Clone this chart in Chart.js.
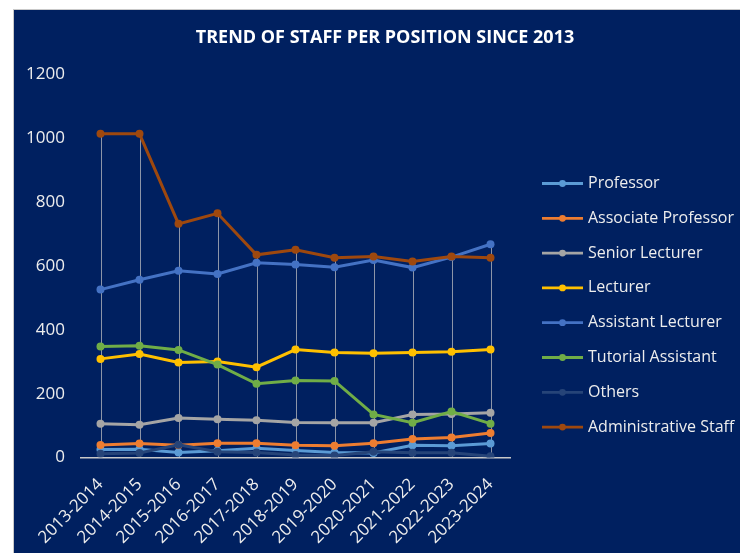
<!DOCTYPE html>
<html>
<head>
<meta charset="utf-8">
<title>Trend of staff per position since 2013</title>
<script src="https://cdn.jsdelivr.net/npm/chart.js@4.4.1/dist/chart.umd.min.js"></script>
<style>
  html, body { margin: 0; padding: 0; background: #fff; }
  #frame {
    position: absolute; left: 14px; top: 10px;
    width: 726px; height: 543px;
    background: #002060;
    box-shadow: 0 0 0 1px #c9c9c9;
  }
  canvas { display: block; }
</style>
</head>
<body>
<div id="frame"><canvas id="staffChart" width="726" height="543"></canvas></div>
<script>
// ---- data ----
const years = ['2013-2014', '2014-2015', '2015-2016', '2016-2017', '2017-2018', '2018-2019',
  '2019-2020', '2020-2021', '2021-2022', '2022-2023', '2023-2024'];

const professor          = [25, 26, 16, 21, 29, 22, 16, 14, 38, 37, 44];
const associateProfessor = [39, 44, 38, 45, 45, 38, 37, 45, 58, 63, 77];
const seniorLecturer     = [106, 103, 124, 120, 117, 110, 109, 109, 135, 136, 140];
const lecturer           = [309, 324, 298, 301, 283, 338, 329, 327, 329, 331, 338];
const assistantLecturer  = [526, 557, 585, 575, 610, 605, 596, 619, 595, 628, 668];
const tutorialAssistant  = [348, 350, 337, 291, 231, 241, 240, 135, 109, 144, 106];
const others             = [12, 14, 40, 18, 16, 8, 6, 18, 15, 15, 4];
const adminStaff         = [1014, 1014, 732, 765, 635, 651, 626, 630, 614, 630, 626];

const seriesNames = ['Professor', 'Associate Professor', 'Senior Lecturer', 'Lecturer',
  'Assistant Lecturer', 'Tutorial Assistant', 'Others', 'Administrative Staff'];
const seriesValues = [professor, associateProfessor, seniorLecturer, lecturer,
  assistantLecturer, tutorialAssistant, others, adminStaff];
const seriesColors = ['#5B9BD5', '#ED7D31', '#A5A5A5', '#FFC000',
  '#4472C4', '#70AD47', '#264478', '#9E480E'];

const yTicks = [0, 200, 400, 600, 800, 1000, 1200];
const chartTitle = 'TREND OF STAFF PER POSITION SINCE 2013';

const TEXT = '#EDEDED';
Chart.defaults.font.family = '"Open Sans", sans-serif';

// Excel-style drop lines from the highest point down to the axis
const dropLines = {
  id: 'dropLines',
  beforeDatasetsDraw(chart) {
    const { ctx, scales: { x, y } } = chart;
    ctx.save();
    ctx.strokeStyle = 'rgba(200,200,200,0.7)';
    ctx.lineWidth = 1;
    years.forEach((_, i) => {
      const top = Math.max(...chart.data.datasets.map(d => d.data[i]));
      const px = Math.round(x.getPixelForValue(i)) + 0.5;
      ctx.beginPath();
      ctx.moveTo(px, y.getPixelForValue(top));
      ctx.lineTo(px, y.getPixelForValue(0));
      ctx.stroke();
    });
    ctx.restore();
  }
};

// title over the whole chart box (Excel centres it on the chart, not the plot)
const boxTitle = {
  id: 'boxTitle',
  afterDraw(chart) {
    const { ctx } = chart;
    ctx.save();
    ctx.font = 'bold 18px "Open Sans"';
    ctx.fillStyle = '#FFFFFF';
    ctx.textAlign = 'center';
    ctx.textBaseline = 'middle';
    ctx.fillText(chartTitle, 371, 28);
    ctx.restore();
  }
};

// legend on the right, line-with-marker swatches like Excel
const sideLegend = {
  id: 'sideLegend',
  afterDraw(chart) {
    const { ctx } = chart;
    ctx.save();
    ctx.font = '16px "Open Sans"';
    ctx.textBaseline = 'middle';
    chart.data.datasets.forEach((ds, i) => {
      const cy = 173.5 + i * 34.8;
      ctx.strokeStyle = ds.borderColor;
      ctx.lineWidth = 2.8;
      ctx.beginPath();
      ctx.moveTo(528, cy);
      ctx.lineTo(569, cy);
      ctx.stroke();
      ctx.fillStyle = ds.borderColor;
      ctx.beginPath();
      ctx.arc(548.5, cy, 3.4, 0, Math.PI * 2);
      ctx.fill();
      ctx.fillStyle = TEXT;
      ctx.fillText(ds.label, 574, cy);
    });
    ctx.restore();
  }
};

new Chart(document.getElementById('staffChart'), {
  type: 'line',
  data: {
    labels: years,
    datasets: seriesNames.map((name, i) => ({
      label: name,
      data: seriesValues[i],
      borderColor: seriesColors[i],
      backgroundColor: seriesColors[i],
      pointBackgroundColor: seriesColors[i],
      pointBorderWidth: 0,
      pointRadius: 4,
      borderWidth: 3,
      tension: 0,
      order: seriesNames.length - 1 - i   // later series drawn on top
    }))
  },
  options: {
    responsive: false,
    animation: false,
    layout: { padding: { left: 0, right: 0, top: 64.5, bottom: 0 } },
    plugins: {
      legend: { display: false },
      tooltip: { enabled: false },
      title: { display: false }
    },
    scales: {
      x: {
        offset: true,
        grid: { display: false, drawTicks: false },
        border: { color: '#C8C8C8', width: 1.5 },
        ticks: { color: TEXT, font: { size: 17 }, minRotation: 45, maxRotation: 45, padding: 17 },
        afterFit: s => { s.height = 95.5; }
      },
      y: {
        min: 0,
        max: 1200,
        grid: { display: false, drawTicks: false },
        border: { display: false },
        afterBuildTicks: s => { s.ticks = yTicks.map(v => ({ value: v })); },
        ticks: { color: TEXT, font: { size: 17 }, padding: 16, callback: v => String(v) },
        afterFit: s => { s.width = 67; }
      },
      // empty right-hand axis that reserves room for the legend
      legendSpace: {
        position: 'right',
        min: 0,
        max: 1200,
        grid: { display: false, drawTicks: false },
        border: { display: false },
        ticks: { display: false },
        afterFit: s => { s.width = 230; }
      }
    }
  },
  plugins: [dropLines, boxTitle, sideLegend]
});
</script>
</body>
</html>
